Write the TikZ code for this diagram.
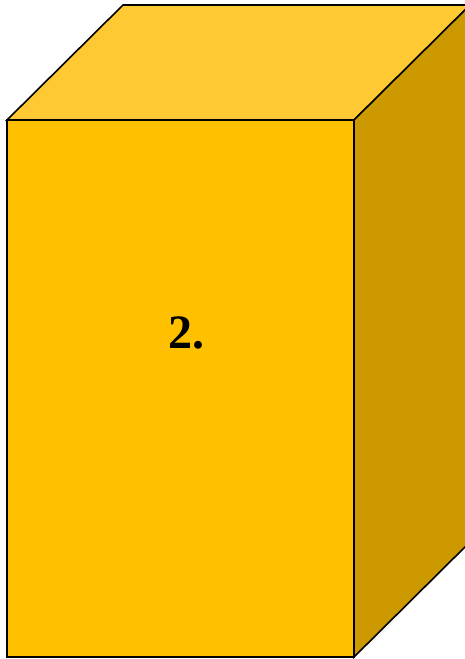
\documentclass[tikz,border=0pt]{standalone}
\usepackage{fontspec}
\setmainfont{Liberation Serif}
\definecolor{frontc}{HTML}{FFC000}
\definecolor{topc}{HTML}{FFC933}
\definecolor{sidec}{HTML}{CC9A00}
\begin{document}
\begin{tikzpicture}[x=1pt,y=-1pt,
  face/.style={draw=black,line width=1.6pt,line join=miter}]
\useasboundingbox (0,0) rectangle (465,659);
\clip (0,0) rectangle (465,659);
\coordinate (ftl) at (7,120);
\coordinate (ftr) at (354,120);
\coordinate (fbr) at (354,657);
\coordinate (fbl) at (7,657);
\coordinate (btl) at (123,5);
\coordinate (btr) at (470,5);
\coordinate (bbr) at (470,542);
\fill[topc] (ftl) -- (btl) -- (btr) -- (ftr) -- cycle;
\draw[face] (ftl) -- (btl) -- (btr) -- (ftr) -- cycle;
\fill[sidec] (ftr) -- (btr) -- (bbr) -- (fbr) -- cycle;
\draw[face] (ftr) -- (btr) -- (bbr) -- (fbr) -- cycle;
\draw[face,fill=frontc] (ftl) rectangle (fbr);
\node[font=\fontsize{48}{48}\selectfont\bfseries] (lbl) at (186,333) {2.};
\end{tikzpicture}
\end{document}
